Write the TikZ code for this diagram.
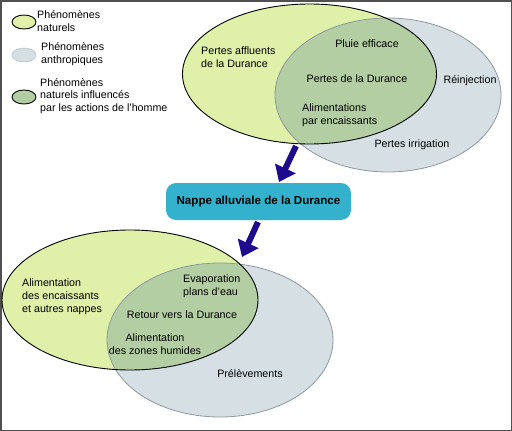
\documentclass[tikz,border=0pt]{standalone}
\usepackage{fontspec}
\setmainfont{Liberation Sans}
\usetikzlibrary{arrows.meta}

\definecolor{vertclair}{HTML}{DFF0A8}
\definecolor{grisbleu}{HTML}{D5DFE4}
\definecolor{vertfonce}{HTML}{B3CEA2}
\definecolor{turquoise}{HTML}{34B1CD}
\definecolor{bleufleche}{HTML}{1E0A8C}
\definecolor{cadre}{HTML}{505050}
\definecolor{bordgris}{HTML}{8E999F}

\tikzset{
  txt/.style={font=\fontsize{10.7}{12.8}\selectfont, align=left, inner sep=0pt},
  fleche/.style={bleufleche, line width=6pt, -{Triangle[length=15pt,width=22pt]}},
  natur/.style={fill=vertclair},
  anthro/.style={fill=grisbleu},
}

\begin{document}
\begin{tikzpicture}[x=1pt,y=-1pt]
\useasboundingbox (0,0) rectangle (512,431);
\draw[cadre, line width=1.5pt] (0.75,0.75) rectangle (511.25,430.25);

% legende
\filldraw[natur, draw=black, line width=0.9pt] (24,22) ellipse [x radius=12pt, y radius=7pt];
\filldraw[anthro, draw=bordgris!60, line width=0.6pt] (24,55) ellipse [x radius=12pt, y radius=7pt];
\filldraw[fill=vertfonce, draw=black, line width=0.9pt] (24,97) ellipse [x radius=12pt, y radius=7pt];
\node[txt, anchor=west] (legnat) at (37,21) {Phénomènes\\naturels};
\node[txt, anchor=west] (leganth) at (41,54.5) {Phénomènes\\anthropiques};
\node[txt, anchor=west] (leginfl) at (40,96) {Phénomènes\\naturels influencés\\par les actions de l'homme};

% diagramme du haut
\fill[natur] (309.5,74) ellipse [x radius=127pt, y radius=70pt];
\fill[anthro] (388,95) ellipse [x radius=113pt, y radius=77pt];
\begin{scope}
  \clip (309.5,74) ellipse [x radius=127pt, y radius=70pt];
  \fill[vertfonce] (388,95) ellipse [x radius=113pt, y radius=77pt];
\end{scope}
\draw[bordgris, line width=0.8pt] (388,95) ellipse [x radius=113pt, y radius=77pt];
\draw[black, line width=0.9pt] (309.5,74) ellipse [x radius=127pt, y radius=70pt];

\node[txt, anchor=west] (pertesaff) at (201,57.5) {Pertes affluents\\de la Durance};
\node[txt] (pluie) at (367,44) {Pluie efficace};
\node[txt] (pertesdur) at (357,79) {Pertes de la Durance};
\node[txt] (reinj) at (470,81) {Réinjection};
\node[txt, anchor=west] (alimenc) at (302,115.5) {Alimentations\\par encaissants};
\node[txt] (irrig) at (412,145) {Pertes irrigation};

% nappe
\node[txt, font=\fontsize{11.6}{13.8}\selectfont\bfseries, fill=turquoise, rounded corners=10pt,
      minimum width=185pt, minimum height=37pt, align=center] (nappe) at (258.5,201.5)
      {Nappe alluviale de la Durance};

\coordinate (dep1) at (296,146);
\coordinate (arr1) at (279,182);
\coordinate (dep2) at (258,222);
\coordinate (arr2) at (242,257);
\draw[fleche] (dep1) -- (arr1);
\draw[fleche] (dep2) -- (arr2);

% diagramme du bas
\fill[natur] (130,300) ellipse [x radius=128pt, y radius=70pt];
\fill[anthro] (220,340) ellipse [x radius=113pt, y radius=77pt];
\begin{scope}
  \clip (130,300) ellipse [x radius=128pt, y radius=70pt];
  \fill[vertfonce] (220,340) ellipse [x radius=113pt, y radius=77pt];
\end{scope}
\draw[bordgris, line width=0.8pt] (220,340) ellipse [x radius=113pt, y radius=77pt];
\draw[black, line width=0.9pt] (130,300) ellipse [x radius=128pt, y radius=70pt];

\node[txt, anchor=west] (alimnap) at (22,297) {Alimentation\\des encaissants\\et autres nappes};
\node[txt, anchor=west] (evap) at (183,286) {Evaporation\\plans d'eau};
\node[txt] (retour) at (182,315) {Retour vers la Durance};
\node[txt, align=center] (alimzh) at (155,344.5) {Alimentation\\des zones humides};
\node[txt] (prel) at (250,374) {Prélèvements};
\end{tikzpicture}
\end{document}
